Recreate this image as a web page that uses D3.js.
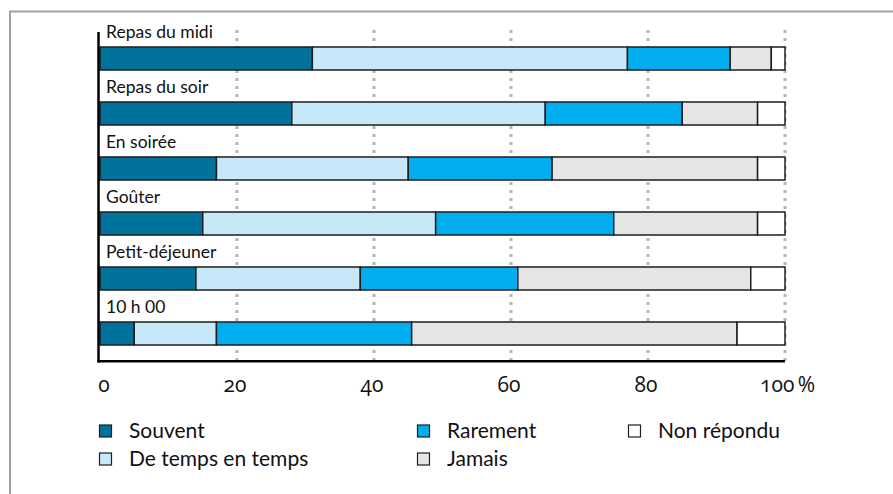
<!DOCTYPE html>
<html><head><meta charset="utf-8">
<script src="https://cdn.jsdelivr.net/npm/d3@7"></script>
<style>
html,body{margin:0;padding:0;background:#fff;}
svg{display:block;font-family:Lato,"Noto Sans",sans-serif;}
.num{font-family:"Open Sans","Noto Sans",Lato,sans-serif;font-variant-numeric:oldstyle-nums;font-feature-settings:"onum" 1;}
</style></head><body>
<svg id="chart" width="893" height="494"></svg>
<script>
const categories = ["Repas du midi","Repas du soir","En soirée","Goûter","Petit-déjeuner","10 h 00"];
const seriesNames = ["Souvent","De temps en temps","Rarement","Jamais","Non répondu"];
const souvent     = [31, 28, 17, 15, 14, 5];
const deTemps     = [46, 37, 28, 34, 24, 12];
const rarement    = [15, 20, 21, 26, 23, 28.5];
const jamais      = [6, 11, 30, 21, 34, 47.5];
const nonRepondu  = [2, 4, 4, 4, 5, 7];
const tickValues  = [0, 20, 40, 60, 80, 100];
const colors = ["#00729c","#c6e8f9","#00aeef","#e5e5e5","#ffffff"];

const svg = d3.select("#chart");
// frame
svg.append("rect").attr("x",10).attr("y",11.5).attr("width",900).attr("height",520)
  .attr("fill","none").attr("stroke","#a0a0a0").attr("stroke-width",2);

const x = d3.scaleLinear().domain([0,100]).range([100,785]);
const y = d3.scaleBand().domain(categories).range([20,350]).paddingInner(0).paddingOuter(0);

// grid
svg.append("g").selectAll("line").data(tickValues.filter(t=>t>0)).join("line")
  .attr("x1",d=>x(d)).attr("x2",d=>x(d)).attr("y1",30).attr("y2",362)
  .attr("stroke","#b5b5b5").attr("stroke-width",3).attr("stroke-dasharray","3,5");

const series = [souvent, deTemps, rarement, jamais, nonRepondu];
const rows = categories.map((c,i)=>{ const o={cat:c}; seriesNames.forEach((s,j)=>o[s]=series[j][i]); return o; });
const stacked = d3.stack().keys(seriesNames)(rows);

const barTop = c => y(c) + 27;
const barH = 23;
svg.append("g").selectAll("g").data(stacked).join("g")
  .attr("fill",(d,i)=>colors[i])
  .selectAll("rect").data(d=>d).join("rect")
  .attr("x",d=>x(d[0])).attr("width",d=>x(d[1])-x(d[0]))
  .attr("y",d=>barTop(d.data.cat)).attr("height",barH)
  .attr("stroke","#1e1e1e").attr("stroke-width",1.5);

// row labels
svg.append("g").selectAll("text").data(categories).join("text")
  .attr("x",106).attr("y",c=>barTop(c)-9)
  .attr("font-size",17.5).attr("fill","#111").text(c=>c);

// axes lines
svg.append("line").attr("x1",98.5).attr("x2",98.5).attr("y1",32).attr("y2",362.5)
  .attr("stroke","#000").attr("stroke-width",2.5);
svg.append("line").attr("x1",97.5).attr("x2",785).attr("y1",361.3).attr("y2",361.3)
  .attr("stroke","#000").attr("stroke-width",2.5);

// tick labels
const tl = svg.append("g").attr("class","num").attr("font-size",21).attr("fill","#111");
tl.selectAll("text").data(tickValues).join("text")
  .attr("x",d=>d===100 ? x(d)-25 : (d===0 ? x(d)+4 : x(d)-2))
  .attr("y",392)
  .attr("text-anchor",d=>d===100?"start":"middle")
  .text(d=>d===100 ? d+"\u2009%" : d);

// legend
const legendPos = [[99,425],[99,453],[417,425],[417,453],[628,425]];
const lg = svg.append("g").selectAll("g").data(seriesNames).join("g")
  .attr("transform",(d,i)=>`translate(${legendPos[i][0]},${legendPos[i][1]})`);
lg.append("rect").attr("x",0.5).attr("y",0).attr("width",12).attr("height",12)
  .attr("fill",(d,i)=>colors[i]).attr("stroke","#1e1e1e").attr("stroke-width",1.2);
lg.append("text").attr("x",30).attr("y",12.5).attr("font-size",21).attr("fill","#111").text(d=>d);
</script>
</body></html>
